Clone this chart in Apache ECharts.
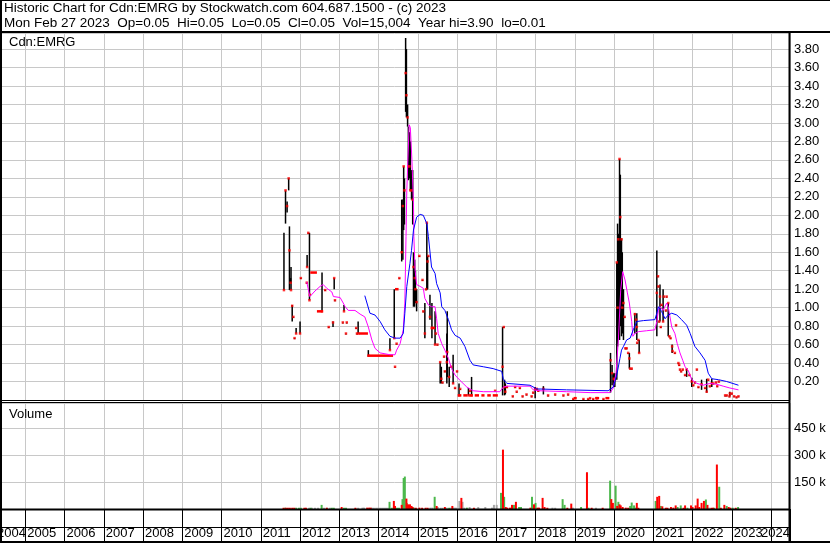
<!DOCTYPE html>
<html><head><meta charset="utf-8">
<script src="https://cdn.jsdelivr.net/npm/echarts@6/dist/echarts.min.js"></script>
<style>html,body{margin:0;padding:0;background:#fff}#c{width:830px;height:543px}</style>
</head><body><div id="c"></div>
<script>
// ---------------- text ----------------
const titleLine1 = 'Historic Chart for Cdn:EMRG by Stockwatch.com 604.687.1500 - (c) 2023';
const titleLine2 = 'Mon Feb 27 2023  Op=0.05  Hi=0.05  Lo=0.05  Cl=0.05  Vol=15,004  Year hi=3.90  lo=0.01';
const symbolLabel = 'Cdn:EMRG';
const volumeLabel = 'Volume';
const yearLabels = ['2004','2005','2006','2007','2008','2009','2010','2011','2012','2013','2014','2015','2016','2017','2018','2019','2020','2021','2022','2023','2024'];
const priceTickLabels = ['0.20','0.40','0.60','0.80','1.00','1.20','1.40','1.60','1.80','2.00','2.20','2.40','2.60','2.80','3.00','3.20','3.40','3.60','3.80'];
const volTickValues = [150000, 300000, 450000];
const volTickLabels = ['150 k', '300 k', '450 k'];

// ---------------- price bars (date as fractional year, high, low, close) ----------------
const barDates = [
 2011.59,2011.63,2011.67,2011.71,2011.73,2011.76,2011.77,2011.80,2011.83,2011.86,2011.90,2012.00,2012.02,
 2012.17,2012.18,2012.21,2012.24,2012.25,2012.56,2012.64,2012.73,2012.84,2012.87,2012.89,
 2013.09,2013.12,2013.17,2013.19,2013.43,2013.45,2013.48,2013.74,
 2014.29,2014.40,2014.42,2014.46,2014.53,
 2014.59,2014.62,2014.64,2014.66,2014.69,2014.71,2014.74,2014.76,2014.79,2014.81,2014.84,2014.87,2014.89,2014.92,2014.94,2014.97,
 2015.04,2015.12,2015.14,2015.18,2015.21,2015.23,2015.25,2015.27,2015.31,2015.36,2015.44,2015.46,2015.50,
 2015.57,2015.60,2015.63,2015.67,2015.69,2015.74,2015.75,2015.80,2015.85,2015.90,2015.95,
 2016.00,2016.05,2016.08,2016.29,2016.33,2016.37,2016.97,
 2017.16,2017.19,2017.21,2017.23,2017.27,2017.42,2017.48,2017.52,2017.60,2017.67,2017.77,2017.90,2017.94,2017.99,
 2018.03,2018.07,2018.20,2018.32,2018.50,2018.71,2018.83,2018.96,
 2019.22,2019.34,2019.39,2019.47,2019.56,2019.73,
 2019.91,2019.95,2019.99,2020.02,2020.07,2020.09,2020.11,2020.14,2020.16,2020.19,2020.21,2020.24,
 2020.27,2020.29,2020.32,2020.36,2020.39,2020.41,2020.45,2020.53,2020.56,2020.58,2020.59,2020.62,2020.64,
 2021.09,2021.12,2021.13,2021.15,2021.17,2021.19,2021.21,2021.25,2021.27,2021.32,2021.34,2021.38,2021.41,2021.44,
 2021.48,2021.49,2021.55,2021.58,2021.64,2021.66,2021.68,2021.71,2021.75,2021.81,2021.85,2021.92,2021.98,
 2022.02,2022.06,2022.11,2022.15,2022.23,2022.32,2022.36,2022.40,2022.44,2022.49,2022.53,2022.60,2022.63,2022.67,
 2022.83,2022.87,2022.94,2022.95,2023.00,2023.06,2023.12,2023.17
];
const barHigh = [
 1.81,2.27,2.15,2.40,1.88,1.32,1.44,1.03,0.90,0.67,0.78,0.85,1.32,
 1.27,1.57,1.81,1.81,1.14,1.38,1.19,0.79,0.85,1.32,1.08,
 0.84,1.03,0.72,0.84,0.78,0.72,0.85,0.54,
 0.67,1.20,0.36,0.61,1.32,
 2.17,2.17,2.53,2.40,3.92,3.80,3.20,2.96,2.90,2.80,2.49,2.49,1.60,1.52,1.40,1.20,
 1.56,1.30,0.96,1.05,1.20,1.92,1.56,1.56,1.14,1.05,0.96,0.72,0.60,
 0.41,0.36,0.19,0.47,0.31,0.72,0.96,0.36,0.36,0.49,0.13,
 0.31,0.18,0.12,0.13,0.10,0.25,0.10,
 0.79,0.79,0.22,0.18,0.14,0.04,0.14,0.09,0.13,0.04,0.06,0.04,0.08,0.14,
 0.12,0.10,0.15,0.05,0.06,0.05,0.06,0.01,
 0.01,0.01,0.02,0.01,0.02,0.01,
 0.51,0.38,0.29,0.29,1.49,1.91,1.80,2.61,2.44,1.75,1.60,1.20,
 0.90,0.56,0.56,0.51,0.51,0.34,0.34,0.94,0.87,0.94,0.62,0.65,0.65,
 1.62,1.34,1.23,0.85,1.25,0.79,1.03,1.20,1.12,0.97,1.12,1.05,0.69,0.67,
 0.60,0.53,0.51,0.81,0.40,0.38,0.33,0.31,0.33,0.27,0.34,0.27,0.24,
 0.16,0.19,0.33,0.14,0.22,0.13,0.23,0.22,0.15,0.23,0.18,0.19,0.15,0.20,
 0.05,0.05,0.04,0.09,0.07,0.04,0.03,0.04
];
const barLow = [
 1.19,1.91,2.03,2.27,1.19,1.27,1.19,0.85,0.90,0.67,0.72,0.72,1.32,
 1.27,1.44,1.81,1.08,1.14,0.96,1.19,0.79,0.79,1.20,1.08,
 0.84,0.96,0.72,0.84,0.78,0.72,0.72,0.47,
 0.54,0.67,0.36,0.61,1.32,
 1.50,1.52,1.84,1.90,3.12,3.06,2.96,2.38,2.40,2.27,2.17,1.90,1.01,1.01,1.05,0.96,
 1.56,1.30,0.96,0.67,1.20,1.19,1.20,1.56,0.87,0.67,0.60,0.72,0.60,
 0.18,0.18,0.19,0.47,0.31,0.18,0.25,0.14,0.36,0.18,0.13,
 0.31,0.05,0.12,0.05,0.10,0.05,0.10,
 0.05,0.79,0.05,0.06,0.14,0.04,0.14,0.09,0.13,0.04,0.06,0.04,0.08,0.02,
 0.12,0.10,0.06,0.05,0.06,0.05,0.06,0.01,
 0.01,0.01,0.02,0.01,0.02,0.01,
 0.08,0.16,0.14,0.14,0.22,0.58,0.70,0.65,0.80,0.69,0.72,0.65,
 0.90,0.56,0.56,0.51,0.34,0.34,0.34,0.72,0.87,0.65,0.62,0.65,0.51,
 0.69,1.34,1.23,0.85,0.85,0.79,1.03,0.85,1.12,0.97,1.12,0.69,0.69,0.67,
 0.51,0.53,0.51,0.81,0.40,0.38,0.33,0.31,0.33,0.27,0.25,0.27,0.14,
 0.16,0.19,0.33,0.14,0.11,0.13,0.08,0.22,0.15,0.14,0.18,0.19,0.15,0.20,
 0.05,0.05,0.04,0.04,0.07,0.04,0.03,0.04
];
const barClose = [
 1.19,2.27,2.10,2.40,1.62,1.27,1.19,1.02,0.90,0.67,0.72,0.72,1.32,
 1.27,1.44,1.81,1.08,1.14,0.96,1.19,0.79,0.84,1.32,1.08,
 0.84,0.96,0.72,0.84,0.78,0.72,0.72,0.48,
 0.54,0.67,0.36,0.61,1.32,
 1.60,2.10,2.53,2.27,3.54,3.30,3.06,2.53,2.53,2.27,2.27,2.17,1.44,1.32,1.20,1.06,
 1.56,1.30,0.96,0.72,1.20,1.92,1.50,1.56,0.90,0.78,0.60,0.72,0.60,
 0.41,0.23,0.19,0.47,0.31,0.41,0.52,0.25,0.36,0.18,0.13,
 0.31,0.05,0.12,0.05,0.10,0.05,0.10,
 0.36,0.79,0.14,0.09,0.14,0.04,0.14,0.09,0.13,0.04,0.06,0.04,0.08,0.12,
 0.12,0.10,0.12,0.05,0.06,0.05,0.06,0.01,
 0.01,0.01,0.02,0.01,0.02,0.01,
 0.43,0.29,0.23,0.22,1.49,1.00,1.74,2.61,1.98,1.74,1.00,1.05,
 0.90,0.56,0.56,0.51,0.45,0.34,0.34,0.93,0.87,0.79,0.62,0.65,0.51,
 1.16,1.34,1.23,0.85,1.12,0.79,1.03,0.85,1.12,0.97,1.12,1.05,0.69,0.67,
 0.58,0.53,0.51,0.81,0.40,0.38,0.33,0.31,0.33,0.27,0.33,0.27,0.20,
 0.16,0.19,0.33,0.14,0.17,0.13,0.09,0.22,0.15,0.18,0.18,0.19,0.15,0.20,
 0.05,0.05,0.04,0.07,0.07,0.04,0.03,0.04
];

// runs of unchanged closes (start date, end date, close)
const flatStart = [2012.26, 2012.43, 2013.50, 2013.74, 2014.42, 2015.33, 2016.02, 2016.16, 2016.31, 2016.45, 2016.62, 2016.77, 2016.91, 2018.97, 2019.52, 2019.78];
const flatEnd   = [2012.43, 2012.58, 2013.73, 2014.37, 2014.51, 2015.44, 2016.11, 2016.26, 2016.40, 2016.56, 2016.70, 2016.86, 2017.04, 2019.05, 2019.62, 2019.88];
const flatClose = [1.38, 0.96, 0.72, 0.48, 1.20, 0.78, 0.05, 0.05, 0.05, 0.05, 0.05, 0.05, 0.05, 0.02, 0.02, 0.02];

// ---------------- moving averages ----------------
const maShortDates = [2012.17,2012.25,2012.38,2012.51,2012.59,2012.68,2012.81,2012.85,2013.02,2013.10,2013.15,2013.23,2013.40,2013.53,2013.65,2013.74,2013.83,2013.91,2014.04,2014.29,2014.42,2014.46,2014.55,2014.63,2014.67,2014.70,2014.72,2014.78,2014.81,2014.85,2014.89,2014.90,2014.93,2014.97,2015.06,2015.14,2015.18,2015.27,2015.35,2015.44,2015.48,2015.52,2015.61,2015.69,2015.78,2015.86,2015.95,2016.08,2016.25,2016.41,2016.67,2017.09,2017.18,2017.27,2017.86,2017.94,2018.11,2018.79,2019.39,2019.90,2019.98,2020.05,2020.11,2020.17,2020.22,2020.28,2020.34,2020.39,2020.45,2020.48,2020.53,2020.62,2020.83,2021.04,2021.09,2021.13,2021.17,2021.25,2021.34,2021.38,2021.47,2021.55,2021.61,2021.68,2021.75,2021.81,2021.89,2021.98,2022.11,2022.27,2022.44,2022.62,2022.78,2022.95,2023.17];
const maShort = [1.28,1.12,1.18,1.23,1.25,1.21,1.17,1.12,1.11,1.05,1.01,0.97,0.97,0.93,0.90,0.79,0.65,0.56,0.51,0.49,0.49,0.54,0.61,0.76,1.05,1.77,2.27,2.98,2.95,2.60,2.13,1.77,1.41,1.25,1.23,1.21,1.10,1.03,1.01,1.01,0.88,0.72,0.61,0.54,0.45,0.34,0.27,0.21,0.14,0.10,0.09,0.09,0.14,0.15,0.15,0.11,0.10,0.09,0.08,0.08,0.13,0.29,0.65,1.19,1.39,1.30,1.16,1.05,0.85,0.69,0.72,0.74,0.75,0.76,0.85,0.97,1.01,0.97,1.05,1.01,0.79,0.72,0.61,0.51,0.43,0.36,0.32,0.22,0.18,0.16,0.18,0.17,0.15,0.13,0.11];
const maLongDates = [2013.65,2013.78,2013.91,2014.04,2014.16,2014.29,2014.42,2014.55,2014.63,2014.67,2014.72,2014.80,2014.84,2014.89,2014.97,2015.06,2015.14,2015.23,2015.27,2015.35,2015.44,2015.48,2015.57,2015.61,2015.69,2015.78,2015.86,2015.95,2016.08,2016.20,2016.33,2016.41,2016.67,2016.92,2017.14,2017.18,2017.27,2017.86,2018.03,2018.79,2019.85,2019.98,2020.07,2020.15,2020.19,2020.24,2020.32,2020.41,2020.49,2020.58,2020.75,2021.04,2021.09,2021.13,2021.21,2021.30,2021.38,2021.47,2021.60,2021.72,2021.85,2021.94,2022.06,2022.19,2022.32,2022.40,2022.49,2022.66,2022.87,2023.17];
const maLong = [1.13,0.94,0.92,0.85,0.76,0.69,0.67,0.67,0.72,0.94,1.23,1.48,1.62,1.84,1.98,2.01,2.00,1.91,1.77,1.44,1.37,1.26,1.16,1.01,0.97,0.87,0.76,0.70,0.67,0.58,0.43,0.38,0.36,0.34,0.31,0.22,0.18,0.16,0.12,0.11,0.10,0.14,0.27,0.45,0.54,0.58,0.65,0.67,0.76,0.85,0.86,0.87,0.94,1.01,0.96,0.88,0.92,0.94,0.92,0.87,0.81,0.72,0.58,0.51,0.43,0.29,0.23,0.22,0.20,0.16];

// ---------------- volume (shares) ----------------
const volRedDates = [2011.58,2011.64,2011.69,2011.74,2011.80,2011.85,2012.11,2012.15,2012.68,2013.06,2013.41,2013.71,2013.76,2013.80,2014.39,2014.42,2014.59,2014.71,2014.75,2014.80,2014.84,2014.87,2014.95,2015.04,2015.11,2015.20,2015.25,2015.48,2015.69,2015.88,2016.11,2016.43,2017.17,2017.24,2017.28,2017.35,2017.40,2017.50,2017.87,2017.96,2018.05,2018.09,2018.18,2018.23,2018.30,2018.81,2018.91,2019.31,2019.43,2019.71,2019.93,2019.97,2020.08,2020.14,2020.17,2020.22,2020.30,2020.36,2020.58,2020.62,2021.10,2021.15,2021.23,2021.32,2021.36,2021.45,2021.51,2021.57,2021.77,2021.81,2021.96,2022.00,2022.08,2022.13,2022.17,2022.23,2022.29,2022.38,2022.48,2022.52,2022.62,2022.72,2022.81,2022.92,2022.96,2023.10];
const volRed = [7000,7000,7000,7000,7000,7000,7000,7000,7000,11000,7000,7500,7500,7500,45000,17000,23000,58000,26000,26000,17000,11000,7000,7500,7000,7000,7000,17000,11000,17000,62000,7000,331000,11000,7500,7500,23000,40000,7500,26000,7500,7500,62000,11000,7000,7000,30000,205000,7000,7000,55000,34000,17000,26000,20000,11000,7500,7000,34000,7000,68000,73000,15000,7000,7000,11000,7500,20000,7000,20000,20000,11000,20000,58000,11000,34000,45000,23000,7000,7000,248000,7000,23000,11000,7500,7000];
const volGreenDates = [2011.62,2011.90,2011.97,2012.02,2012.27,2012.55,2012.81,2012.86,2013.12,2013.17,2014.28,2014.34,2014.47,2014.52,2014.61,2014.64,2014.67,2014.72,2014.90,2015.43,2015.80,2016.25,2017.12,2017.20,2017.45,2017.58,2017.63,2017.91,2018.00,2018.69,2018.74,2019.16,2019.35,2019.90,2020.04,2020.11,2020.41,2020.45,2020.51,2020.55,2021.06,2021.19,2021.62,2021.70,2021.87,2022.34,2022.55,2022.68,2022.87,2023.02,2023.16];
const volGreen = [7000,7000,7000,7000,7000,23000,7000,7000,7000,7000,40000,7000,7000,7000,55000,173000,181000,34000,7500,68000,7000,7500,90000,68000,23000,11000,11000,68000,34000,55000,23000,11000,7000,158000,130000,40000,17000,36000,20000,7500,45000,17000,11000,20000,7000,53000,7000,124000,17000,7500,11000];
const volGrayDates = [2012.23,2012.30,2012.38,2012.46,2012.61,2012.69,2012.76,2013.48,2013.59,2013.63,2013.83,2013.88,2013.94,2013.99,2014.04,2014.09,2014.14,2014.19,2014.24,2015.32,2015.37,2015.51,2015.58,2015.63,2015.74,2015.85,2015.92,2015.97,2016.06,2016.14,2016.18,2016.32,2016.54,2016.72,2016.89,2016.94,2017.01,2018.43,2018.50,2018.95,2019.54,2022.42];
const volGray = [7000,7000,7000,7000,7000,7000,7000,7000,7500,7500,7000,7000,7000,7000,7000,7000,7000,7000,7000,7500,7500,11000,7000,7000,7000,7000,7500,7500,45000,40000,7500,11000,11000,11000,7500,23000,23000,7500,7000,7500,7000,7500];

// ---------------- chart ----------------
const FONT = '"Liberation Sans", Arial, sans-serif';
const GRID_GRAY = '#c8c8c8';
const X_MIN = 2004, X_MAX = 2024.483;
const zip = (a, b) => a.map((v, i) => [v, b[i]]);

const chart = echarts.init(document.getElementById('c'), null, {renderer: 'canvas', width: 830, height: 543});

const xCommon = {
  type: 'value', min: X_MIN, max: X_MAX, interval: 1,
  axisLine: {show: false},
  splitLine: {show: true, lineStyle: {color: GRID_GRAY, width: 1}}
};

const option = {
  animation: false,
  backgroundColor: '#fff',
  grid: [
    {left: -13.95, top: 33, width: 803.95, height: 367, outerBoundsMode: 'none', containLabel: false},
    {left: -13.95, top: 403, width: 803.95, height: 106, outerBoundsMode: 'none', containLabel: false}
  ],
  xAxis: [
    Object.assign({}, xCommon, {gridIndex: 0, axisTick: {show: false}, axisLabel: {show: false}}),
    Object.assign({}, xCommon, {
      gridIndex: 1, position: 'bottom',
      axisTick: {show: true, length: 34, lineStyle: {color: '#000', width: 1}},
      axisLabel: {
        show: true, showMinLabel: true, showMaxLabel: true,
        align: 'left', margin: 18, padding: [0, 0, 0, 2],
        alignMaxLabel: 'right',
        color: '#000', fontSize: 13, fontFamily: FONT,
        rich: {f: {padding: [0, 0, 0, 9], color: '#000', fontSize: 13, fontFamily: FONT}},
        formatter: function (v) {
          const r = Math.round(v);
          if (Math.abs(v - r) > 1e-6) return v > 2024 ? yearLabels[yearLabels.length - 1] : '';
          const idx = r - 2004;
          if (idx === 0) return '{f|' + yearLabels[0] + '}';
          if (idx === yearLabels.length - 1) return '';
          return yearLabels[idx] || '';
        }
      }
    })
  ],
  yAxis: [
    {
      gridIndex: 0, type: 'value', position: 'right', min: 0, max: 3.974, interval: 0.2,
      axisLine: {show: false}, axisTick: {show: false},
      splitLine: {show: true, lineStyle: {color: GRID_GRAY, width: 1}},
      axisLabel: {
        margin: 4, color: '#000', fontSize: 13, fontFamily: FONT,
        formatter: function (v) {
          const s = v.toFixed(2);
          return priceTickLabels.indexOf(s) >= 0 && Math.abs(v * 5 - Math.round(v * 5)) < 1e-6 ? s : '';
        }
      }
    },
    {
      gridIndex: 1, type: 'value', position: 'right', min: 0, max: 591100, interval: 150000,
      axisLine: {show: false}, axisTick: {show: false},
      splitLine: {show: true, lineStyle: {color: GRID_GRAY, width: 1}},
      axisLabel: {
        margin: 4, color: '#000', fontSize: 13, fontFamily: FONT,
        formatter: function (v) {
          const i = volTickValues.indexOf(Math.round(v));
          return i >= 0 ? volTickLabels[i] : '';
        }
      }
    }
  ],
  series: [
    {
      type: 'custom', name: 'range', xAxisIndex: 0, yAxisIndex: 0, z: 2, silent: true,
      data: barDates.map((d, i) => [d, barHigh[i], barLow[i]]),
      encode: {x: 0, y: [1, 2]},
      renderItem: function (params, api) {
        const hi = api.coord([api.value(0), api.value(1)]);
        const lo = api.coord([api.value(0), api.value(2)]);
        return {type: 'rect', shape: {x: hi[0] - 0.75, y: hi[1], width: 1.5, height: Math.max(1, lo[1] - hi[1])}, style: {fill: '#000'}};
      }
    },
    {
      type: 'custom', name: 'flat', xAxisIndex: 0, yAxisIndex: 0, z: 3, silent: true,
      data: flatStart.map((s, i) => [s, flatEnd[i], flatClose[i]]),
      encode: {x: [0, 1], y: 2},
      renderItem: function (params, api) {
        const a = api.coord([api.value(0), api.value(2)]);
        const b = api.coord([api.value(1), api.value(2)]);
        return {type: 'rect', shape: {x: a[0], y: a[1] - 1.25, width: Math.max(1, b[0] - a[0]), height: 2.5}, style: {fill: '#ff0000'}};
      }
    },
    {
      type: 'scatter', name: 'close', xAxisIndex: 0, yAxisIndex: 0, z: 3, silent: true,
      symbol: 'rect', symbolSize: 2.5,
      itemStyle: {color: '#ff0000'},
      data: zip(barDates, barClose)
    },
    {
      type: 'line', name: 'maShort', xAxisIndex: 0, yAxisIndex: 0, z: 4, silent: true,
      showSymbol: false, lineStyle: {color: '#ff00ff', width: 1},
      data: zip(maShortDates, maShort)
    },
    {
      type: 'line', name: 'maLong', xAxisIndex: 0, yAxisIndex: 0, z: 5, silent: true,
      showSymbol: false, lineStyle: {color: '#0000ff', width: 1},
      data: zip(maLongDates, maLong)
    },
    {
      type: 'bar', name: 'volGray', xAxisIndex: 1, yAxisIndex: 1, barWidth: 2, barGap: '-100%', silent: true,
      itemStyle: {color: '#a8a8a8'}, data: zip(volGrayDates, volGray)
    },
    {
      type: 'bar', name: 'volGreen', xAxisIndex: 1, yAxisIndex: 1, barWidth: 2, barGap: '-100%', silent: true,
      itemStyle: {color: '#4cb84c'}, data: zip(volGreenDates, volGreen)
    },
    {
      type: 'bar', name: 'volRed', xAxisIndex: 1, yAxisIndex: 1, barWidth: 2, barGap: '-100%', silent: true,
      itemStyle: {color: '#ff0000'}, data: zip(volRedDates, volRed)
    }
  ],
  graphic: [
    {type: 'rect', shape: {x: 0, y: 0, width: 830, height: 1}, style: {fill: '#000'}, z: 100, silent: true},
    {type: 'rect', shape: {x: 0, y: 0, width: 2, height: 543}, style: {fill: '#000'}, z: 100, silent: true},
    {type: 'rect', shape: {x: 0, y: 31, width: 830, height: 2}, style: {fill: '#000'}, z: 100, silent: true},
    {type: 'rect', shape: {x: 788.5, y: 33, width: 2, height: 510}, style: {fill: '#000'}, z: 100, silent: true},
    {type: 'rect', shape: {x: 0, y: 400, width: 790, height: 1}, style: {fill: '#000'}, z: 100, silent: true},
    {type: 'rect', shape: {x: 0, y: 402, width: 790, height: 1}, style: {fill: '#000'}, z: 100, silent: true},
    {type: 'rect', shape: {x: 0, y: 508.5, width: 790, height: 2}, style: {fill: '#000'}, z: 100, silent: true},
    {type: 'rect', shape: {x: 0, y: 527, width: 790, height: 1}, style: {fill: '#000'}, z: 100, silent: true},
    {type: 'rect', shape: {x: 0, y: 541, width: 830, height: 2}, style: {fill: '#000'}, z: 100, silent: true},
    {type: 'text', x: 4, y: 8, style: {text: titleLine1, fill: '#000', font: '13.5px ' + FONT, textVerticalAlign: 'middle'}, z: 100, silent: true},
    {type: 'text', x: 4, y: 23.5, style: {text: titleLine2, fill: '#000', font: '13.5px ' + FONT, textVerticalAlign: 'middle'}, z: 100, silent: true},
    {type: 'text', x: 9, y: 42, style: {text: symbolLabel, fill: '#000', font: '13px ' + FONT, textVerticalAlign: 'middle'}, z: 100, silent: true},
    {type: 'text', x: 9, y: 414, style: {text: volumeLabel, fill: '#000', font: '13px ' + FONT, textVerticalAlign: 'middle'}, z: 100, silent: true}
  ]
};
chart.setOption(option);
</script>
</body></html>
